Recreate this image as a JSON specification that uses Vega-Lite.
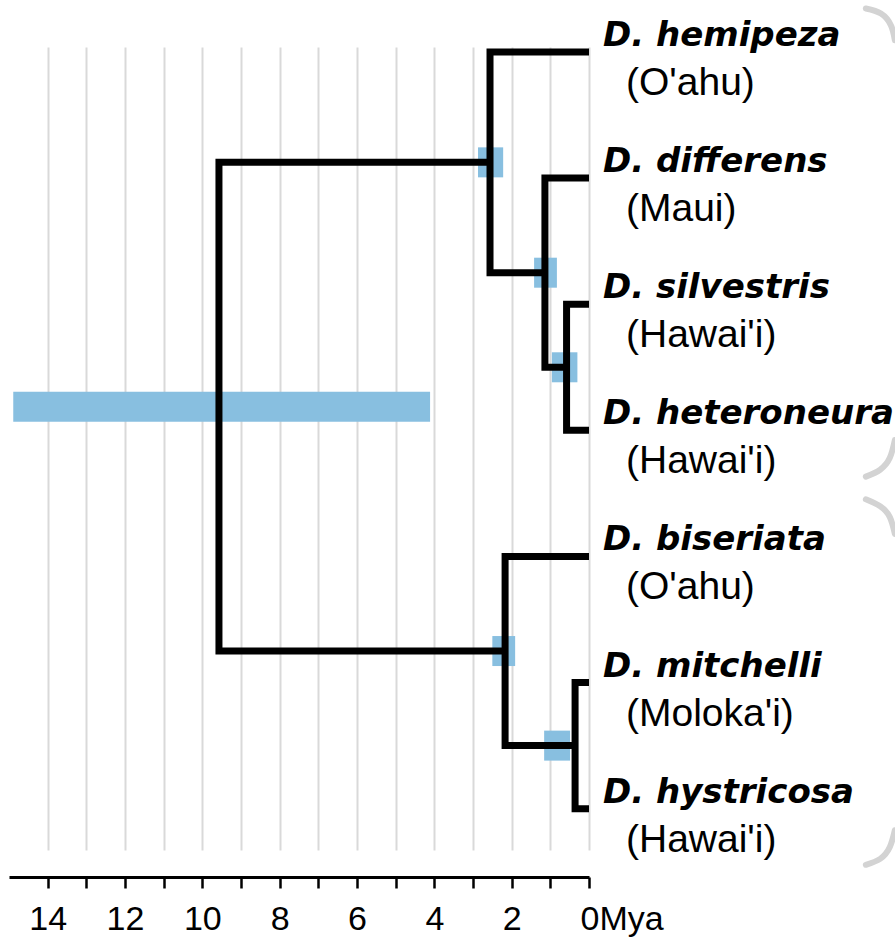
{
  "$schema": "https://vega.github.io/schema/vega-lite/v6.json",
  "autosize": {"type": "none"},
  "padding": {"left": 9, "top": 47, "right": 306, "bottom": 89},
  "width": 580,
  "height": 803,
  "background": "white",
  "config": {"view": {"stroke": null}},
  "datasets": {
    "tree": [
      {"node": "Nh", "ord": 1, "t": 0, "y": 0},
      {"node": "Nh", "ord": 2, "t": 2.56, "y": 0},
      {"node": "Nh", "ord": 3, "t": 2.56, "y": 1.75},
      {"node": "Nh", "ord": 4, "t": 1.14, "y": 1.75},
      {"node": "Nd", "ord": 1, "t": 0, "y": 1},
      {"node": "Nd", "ord": 2, "t": 1.14, "y": 1},
      {"node": "Nd", "ord": 3, "t": 1.14, "y": 2.5},
      {"node": "Nd", "ord": 4, "t": 0.58, "y": 2.5},
      {"node": "Nsh", "ord": 1, "t": 0, "y": 2},
      {"node": "Nsh", "ord": 2, "t": 0.58, "y": 2},
      {"node": "Nsh", "ord": 3, "t": 0.58, "y": 3},
      {"node": "Nsh", "ord": 4, "t": 0, "y": 3},
      {"node": "Root", "ord": 1, "t": 2.56, "y": 0.875},
      {"node": "Root", "ord": 2, "t": 9.57, "y": 0.875},
      {"node": "Root", "ord": 3, "t": 9.57, "y": 4.75},
      {"node": "Root", "ord": 4, "t": 2.17, "y": 4.75},
      {"node": "Nb", "ord": 1, "t": 0, "y": 4},
      {"node": "Nb", "ord": 2, "t": 2.17, "y": 4},
      {"node": "Nb", "ord": 3, "t": 2.17, "y": 5.5},
      {"node": "Nb", "ord": 4, "t": 0.36, "y": 5.5},
      {"node": "Nmh", "ord": 1, "t": 0, "y": 5},
      {"node": "Nmh", "ord": 2, "t": 0.36, "y": 5},
      {"node": "Nmh", "ord": 3, "t": 0.36, "y": 6},
      {"node": "Nmh", "ord": 4, "t": 0, "y": 6}
    ],
    "bars": [
      {"node": "Root", "hi": 14.89, "lo": 4.11, "y": 2.8125},
      {"node": "Nh", "hi": 2.87, "lo": 2.22, "y": 0.875},
      {"node": "Nd", "hi": 1.42, "lo": 0.83, "y": 1.75},
      {"node": "Nsh", "hi": 0.96, "lo": 0.3, "y": 2.5},
      {"node": "Nb", "hi": 2.5, "lo": 1.91, "y": 4.75},
      {"node": "Nmh", "hi": 1.16, "lo": 0.49, "y": 5.5}
    ],
    "tips": [
      {"species": "D. hemipeza", "island": "(O'ahu)", "y": 0},
      {"species": "D. differens", "island": "(Maui)", "y": 1},
      {"species": "D. silvestris", "island": "(Hawai'i)", "y": 2},
      {"species": "D. heteroneura", "island": "(Hawai'i)", "y": 3},
      {"species": "D. biseriata", "island": "(O'ahu)", "y": 4},
      {"species": "D. mitchelli", "island": "(Moloka'i)", "y": 5},
      {"species": "D. hystricosa", "island": "(Hawai'i)", "y": 6}
    ],
    "arcs": [
      {"arc": "a1", "ord": 1, "t": -7.16, "y": -0.345},
      {"arc": "a1", "ord": 2, "t": -7.55, "y": -0.305},
      {"arc": "a1", "ord": 3, "t": -7.81, "y": -0.211},
      {"arc": "a1", "ord": 4, "t": -7.91, "y": -0.094},
      {"arc": "a2", "ord": 1, "t": -7.91, "y": 3.077},
      {"arc": "a2", "ord": 2, "t": -7.78, "y": 3.218},
      {"arc": "a2", "ord": 3, "t": -7.53, "y": 3.312},
      {"arc": "a2", "ord": 4, "t": -7.16, "y": 3.367},
      {"arc": "a3", "ord": 1, "t": -7.16, "y": 3.547},
      {"arc": "a3", "ord": 2, "t": -7.53, "y": 3.602},
      {"arc": "a3", "ord": 3, "t": -7.78, "y": 3.688},
      {"arc": "a3", "ord": 4, "t": -7.91, "y": 3.821},
      {"arc": "a4", "ord": 1, "t": -7.91, "y": 6.171},
      {"arc": "a4", "ord": 2, "t": -7.78, "y": 6.304},
      {"arc": "a4", "ord": 3, "t": -7.53, "y": 6.398},
      {"arc": "a4", "ord": 4, "t": -7.16, "y": 6.445}
    ]
  },
  "layer": [
    {
      "data": {"name": "bars"},
      "mark": {"type": "bar", "size": 30, "color": "#88bfe0", "orient": "horizontal"},
      "encoding": {
        "x": {
          "field": "hi", "type": "quantitative",
          "scale": {"domain": [0, 15], "reverse": true, "nice": false, "zero": false},
          "axis": {
            "orient": "bottom",
            "offset": 27,
            "values": [0, 1, 2, 3, 4, 5, 6, 7, 8, 9, 10, 11, 12, 13, 14],
            "title": null,
            "grid": true,
            "gridColor": "#d9d9d9",
            "gridWidth": 2,
            "domainColor": "black",
            "domainWidth": 3,
            "tickColor": "black",
            "tickWidth": 2.5,
            "tickSize": 11,
            "labelFont": "Liberation Sans",
            "labelFontSize": 34,
            "labelColor": "black",
            "labelPadding": 14,
            "labelFlush": false,
            "labelOverlap": false,
            "labelBound": false,
            "labelExpr": "datum.value == 0 ? '0Mya' : (datum.value % 2 == 0 ? datum.label : '')",
            "labelAlign": {"condition": {"test": "datum.value == 0", "value": "left"}, "value": "center"},
            "labelOffset": {"condition": {"test": "datum.value == 0", "value": -9}, "value": 0}
          }
        },
        "x2": {"field": "lo"},
        "y": {
          "field": "y", "type": "quantitative",
          "scale": {"domain": [0, 6.288], "reverse": true, "nice": false, "zero": false},
          "axis": null
        }
      }
    },
    {
      "data": {"name": "tree"},
      "mark": {"type": "line", "color": "black", "strokeWidth": 7, "strokeJoin": "miter", "strokeCap": "butt"},
      "encoding": {
        "x": {"field": "t", "type": "quantitative"},
        "y": {"field": "y", "type": "quantitative"},
        "detail": {"field": "node"},
        "order": {"field": "ord"}
      }
    },
    {
      "data": {"name": "arcs"},
      "mark": {"type": "line", "color": "#d3d3d3", "strokeWidth": 6, "interpolate": "natural", "strokeCap": "round"},
      "encoding": {
        "x": {"field": "t", "type": "quantitative"},
        "y": {"field": "y", "type": "quantitative"},
        "detail": {"field": "arc"},
        "order": {"field": "ord"}
      }
    },
    {
      "data": {"name": "tips"},
      "mark": {"type": "text", "align": "left", "baseline": "alphabetic", "dx": 14, "dy": -6, "font": "DejaVu Sans", "fontWeight": "bold", "fontStyle": "italic", "fontSize": 34, "color": "black"},
      "encoding": {
        "x": {"datum": 0, "type": "quantitative"},
        "y": {"field": "y", "type": "quantitative"},
        "text": {"field": "species"}
      }
    },
    {
      "data": {"name": "tips"},
      "mark": {"type": "text", "align": "left", "baseline": "alphabetic", "dx": 37, "dy": 43, "font": "Liberation Sans", "fontSize": 39, "color": "black"},
      "encoding": {
        "x": {"datum": 0, "type": "quantitative"},
        "y": {"field": "y", "type": "quantitative"},
        "text": {"field": "island"}
      }
    }
  ]
}
